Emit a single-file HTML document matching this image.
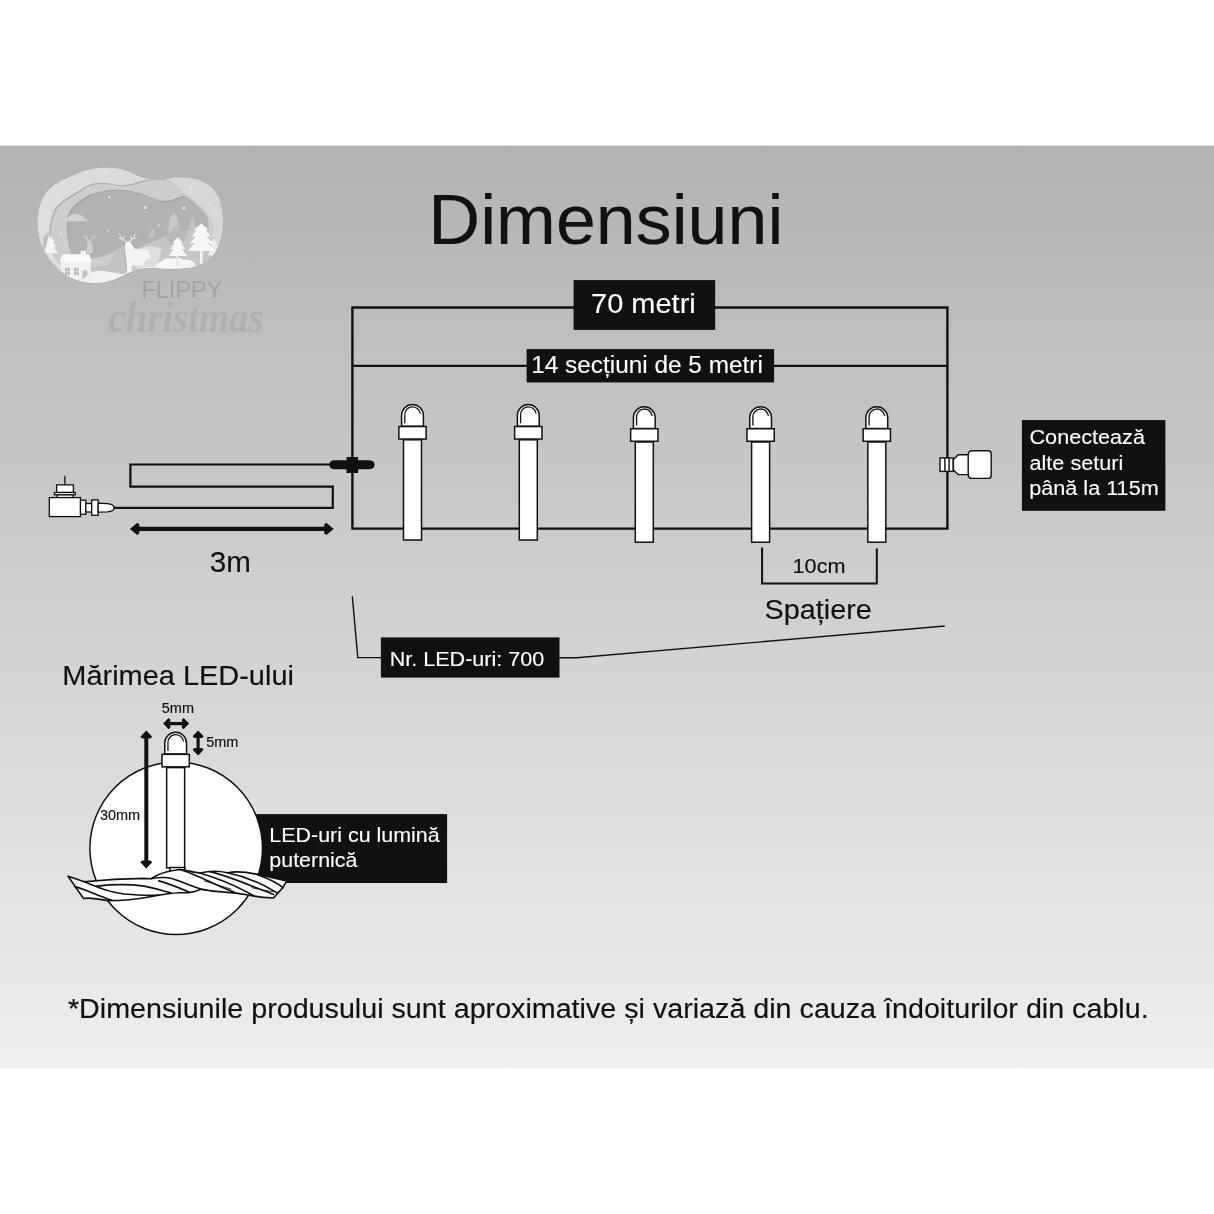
<!DOCTYPE html>
<html lang="ro">
<head>
<meta charset="utf-8">
<title>Dimensiuni</title>
<style>
html,body{margin:0;padding:0;background:#fff;}
body{width:1214px;height:1214px;overflow:hidden;position:relative;font-family:"Liberation Sans",sans-serif;}
svg{position:absolute;left:0;top:0;display:block;will-change:transform;}
text{font-family:"Liberation Sans",sans-serif;}
.w{fill:#fff;}
text.w{stroke:#fff;stroke-width:0.12px;}
text.k{stroke:#111;stroke-width:0.15px;}
.k{fill:#111;}
.ln{stroke:#111;fill:none;}
.p{fill:#fff;stroke:#111;stroke-width:1.5;}
</style>
</head>
<body>
<svg width="1214" height="1214" viewBox="0 0 1214 1214">
<defs>
<linearGradient id="bg" x1="0" y1="0" x2="0" y2="1">
<stop offset="0" stop-color="#b2b2b2"/>
<stop offset="1" stop-color="#eeeeee"/>
</linearGradient>
</defs>
<rect x="0" y="145.5" width="1214" height="922.8" fill="url(#bg)"/>

<!-- LOGO -->
<g id="logo" transform="translate(30 160) scale(0.16474)">
<defs><clipPath id="lc"><path d="M47 380C47 353 50 325 55 300C60 275 68 252 80 230C92 208 101 190 125 170C149 150 188 128 225 110C262 92 312 70 350 60C388 50 417 48 450 47C483 46 524 50 550 55C576 60 585 66 607 75C629 84 653 100 682 107C711 114 744 117 782 117C820 117 870 106 907 106C944 106 978 110 1007 117C1036 124 1060 134 1082 150C1104 166 1124 188 1137 210C1150 232 1156 257 1162 280C1168 303 1171 324 1172 350C1173 376 1171 412 1167 439C1163 466 1157 490 1147 514C1137 538 1122 566 1107 584C1092 602 1078 613 1057 624C1036 635 1015 645 982 651C949 657 894 658 857 659C820 660 786 656 757 656C728 656 707 655 682 659C657 663 629 674 607 682C585 690 572 700 550 709C528 718 500 730 475 736C450 742 425 746 400 746C375 746 350 744 325 739C300 734 275 726 250 714C225 702 197 682 175 664C153 646 136 626 120 604C104 582 91 557 80 534C69 511 60 490 55 464C50 438 47 407 47 380Z"/></clipPath>
<linearGradient id="l1g" x1="0" y1="0" x2="1" y2="0"><stop offset="0" stop-color="#dedede"/><stop offset="1" stop-color="#d6d6d6"/></linearGradient></defs>
<path d="M47 380C47 353 50 325 55 300C60 275 68 252 80 230C92 208 101 190 125 170C149 150 188 128 225 110C262 92 312 70 350 60C388 50 417 48 450 47C483 46 524 50 550 55C576 60 585 66 607 75C629 84 653 100 682 107C711 114 744 117 782 117C820 117 870 106 907 106C944 106 978 110 1007 117C1036 124 1060 134 1082 150C1104 166 1124 188 1137 210C1150 232 1156 257 1162 280C1168 303 1171 324 1172 350C1173 376 1171 412 1167 439C1163 466 1157 490 1147 514C1137 538 1122 566 1107 584C1092 602 1078 613 1057 624C1036 635 1015 645 982 651C949 657 894 658 857 659C820 660 786 656 757 656C728 656 707 655 682 659C657 663 629 674 607 682C585 690 572 700 550 709C528 718 500 730 475 736C450 742 425 746 400 746C375 746 350 744 325 739C300 734 275 726 250 714C225 702 197 682 175 664C153 646 136 626 120 604C104 582 91 557 80 534C69 511 60 490 55 464C50 438 47 407 47 380Z" fill="#a9a9a9" opacity="0.5" transform="translate(5 6)"/>
<path d="M47 380C47 353 50 325 55 300C60 275 68 252 80 230C92 208 101 190 125 170C149 150 188 128 225 110C262 92 312 70 350 60C388 50 417 48 450 47C483 46 524 50 550 55C576 60 585 66 607 75C629 84 653 100 682 107C711 114 744 117 782 117C820 117 870 106 907 106C944 106 978 110 1007 117C1036 124 1060 134 1082 150C1104 166 1124 188 1137 210C1150 232 1156 257 1162 280C1168 303 1171 324 1172 350C1173 376 1171 412 1167 439C1163 466 1157 490 1147 514C1137 538 1122 566 1107 584C1092 602 1078 613 1057 624C1036 635 1015 645 982 651C949 657 894 658 857 659C820 660 786 656 757 656C728 656 707 655 682 659C657 663 629 674 607 682C585 690 572 700 550 709C528 718 500 730 475 736C450 742 425 746 400 746C375 746 350 744 325 739C300 734 275 726 250 714C225 702 197 682 175 664C153 646 136 626 120 604C104 582 91 557 80 534C69 511 60 490 55 464C50 438 47 407 47 380Z" fill="url(#l1g)"/>
<g clip-path="url(#lc)">
<path d="M125 425C128 392 138 348 150 320C162 292 179 278 200 260C221 242 250 226 275 210C300 194 329 176 350 165C371 154 383 150 400 147C417 144 433 144 450 145C467 146 483 148 500 150C517 152 532 159 550 160C568 161 585 159 607 155C629 151 657 141 682 135C707 129 736 122 757 120C778 118 790 118 807 120C824 122 842 128 857 135C872 142 885 154 897 165C909 176 917 190 927 200C937 210 944 215 957 225C970 235 990 248 1007 260C1024 272 1044 287 1057 300C1070 313 1079 327 1087 340C1095 353 1103 366 1107 380C1111 394 1113 405 1112 425C1111 445 1109 474 1100 500C1091 526 1077 560 1060 580C1043 600 1027 610 1000 620C973 630 940 635 900 640C860 645 797 648 760 650C723 652 707 650 680 655C653 660 630 672 600 680C570 688 533 694 500 700C467 706 433 714 400 715C367 716 330 712 300 705C270 698 243 688 220 670C197 652 175 625 160 600C145 575 136 549 130 520C124 491 122 458 125 425Z" fill="#a8a8a8" transform="translate(-6 -6)"/>
<path d="M125 425C128 392 138 348 150 320C162 292 179 278 200 260C221 242 250 226 275 210C300 194 329 176 350 165C371 154 383 150 400 147C417 144 433 144 450 145C467 146 483 148 500 150C517 152 532 159 550 160C568 161 585 159 607 155C629 151 657 141 682 135C707 129 736 122 757 120C778 118 790 118 807 120C824 122 842 128 857 135C872 142 885 154 897 165C909 176 917 190 927 200C937 210 944 215 957 225C970 235 990 248 1007 260C1024 272 1044 287 1057 300C1070 313 1079 327 1087 340C1095 353 1103 366 1107 380C1111 394 1113 405 1112 425C1111 445 1109 474 1100 500C1091 526 1077 560 1060 580C1043 600 1027 610 1000 620C973 630 940 635 900 640C860 645 797 648 760 650C723 652 707 650 680 655C653 660 630 672 600 680C570 688 533 694 500 700C467 706 433 714 400 715C367 716 330 712 300 705C270 698 243 688 220 670C197 652 175 625 160 600C145 575 136 549 130 520C124 491 122 458 125 425Z" fill="#cdcdcd"/>
<path d="M230 380C232 352 238 335 250 315C262 295 279 277 300 260C321 243 350 226 375 215C400 204 425 200 450 195C475 190 499 188 525 187C551 186 581 188 607 192C633 196 657 202 682 210C707 218 736 232 757 240C778 248 790 253 807 255C824 257 840 253 857 250C874 247 892 239 907 235C922 231 930 221 947 227C964 233 989 254 1007 270C1025 286 1045 307 1057 320C1069 333 1072 333 1077 350C1082 367 1086 395 1085 420C1084 445 1079 477 1070 500C1061 523 1050 543 1030 560C1010 577 988 590 950 600C912 610 842 613 800 620C758 627 733 633 700 640C667 647 633 653 600 660C567 667 533 675 500 680C467 685 430 693 400 690C370 687 343 678 320 660C297 642 274 610 260 580C246 550 240 513 235 480C230 447 228 408 230 380Z" fill="#9f9f9f" transform="translate(-6 -6)"/>
<path d="M230 380C232 352 238 335 250 315C262 295 279 277 300 260C321 243 350 226 375 215C400 204 425 200 450 195C475 190 499 188 525 187C551 186 581 188 607 192C633 196 657 202 682 210C707 218 736 232 757 240C778 248 790 253 807 255C824 257 840 253 857 250C874 247 892 239 907 235C922 231 930 221 947 227C964 233 989 254 1007 270C1025 286 1045 307 1057 320C1069 333 1072 333 1077 350C1082 367 1086 395 1085 420C1084 445 1079 477 1070 500C1061 523 1050 543 1030 560C1010 577 988 590 950 600C912 610 842 613 800 620C758 627 733 633 700 640C667 647 633 653 600 660C567 667 533 675 500 680C467 685 430 693 400 690C370 687 343 678 320 660C297 642 274 610 260 580C246 550 240 513 235 480C230 447 228 408 230 380Z" fill="#b2b2b2"/>
<path d="M195 372 Q200 350 235 348 Q250 322 290 330 Q320 335 325 352 Q350 355 352 372 Z" fill="#d2d2d2"/>
<path d="M835 218 Q850 200 880 203 Q905 198 915 215 Z" fill="#d0d0d0"/>
<path d="M385 272 A24 24 0 1 0 402 318 A20 20 0 0 1 385 272 Z" fill="#d6d6d6"/>
<path d="M872 318L901 356L888 350L908 394L892 388L915 432L896 426L922 470L822 470L848 426L829 432L852 388L836 394L856 350L843 356Z" fill="#c9c9c9"/>
<path d="M987 345L1006 380L997 376L1012 415L1000 411L1017 450L957 450L974 411L962 415L977 376L968 380Z" fill="#c4c4c4"/>
<path d="M742 419L758 444L751 442L764 468L720 468L733 442L726 444Z" fill="#c3c3c3"/>
<path d="M600 560 C680 520 760 500 860 440 L1000 420 L1100 480 L1100 680 L600 700 Z" fill="#c6c6c6"/>
<path d="M820 470 L880 400 L960 440 L900 560 Z" fill="#b0b0b0" opacity="0.6"/>
<path d="M370 600 C450 590 510 560 568 518 L585 700 L370 700 Z" fill="#c2c2c2"/>
<path d="M370 600 C420 585 470 590 520 560 L470 640 L370 650 Z" fill="#cdcdcd"/>
<path d="M640 545 C700 520 760 520 800 540 L770 650 L640 660 Z" fill="#dedede"/>
<path d="M345 490 L370 490 L378 520 L380 565 L340 565 L348 520 Z" fill="#cfcfcf"/>
<path d="M330 452 Q336 478 358 488 M338 470 L326 470 M345 480 L350 462 M396 452 Q390 478 366 488 M388 470 L400 470 M380 480 L375 462" fill="none" stroke="#d4d4d4" stroke-width="5" stroke-linecap="round"/>
<path d="M150 700 C250 690 330 680 400 676 C470 665 520 690 570 692 L700 650 L1100 640 L1100 800 L100 800 Z" fill="#f1f1f1"/>
<path d="M762 662 Q760 625 800 615 Q820 590 860 600 Q900 585 930 605 Q980 600 1000 630 L1010 662 Z" fill="#f6f6f6"/>
<path d="M1115 478L1139 511L1128 507L1146 545L1132 541L1152 578L1078 578L1098 541L1084 545L1102 507L1091 511Z" fill="#ededed"/>
<rect x="1032" y="545" width="16" height="95" fill="#f2f2f2"/>
<path d="M1040 385L1088 427L1067 420L1100 468L1073 462L1111 510L1079 504L1122 552L958 552L1001 504L969 510L1007 462L980 468L1013 420L992 427Z" fill="#f6f6f6"/>
<rect x="887" y="575" width="13" height="70" fill="#e6e6e6"/>
<path d="M897 467L932 505L917 501L943 544L922 539L953 582L841 582L872 539L851 544L877 501L862 505Z" fill="#f6f6f6"/>
<path d="M580 500 L610 495 L622 520 L640 540 L720 545 L730 600 L700 605 L690 640 L620 640 L612 690 L592 690 L585 600 L575 540 Z" fill="#f4f4f4"/>
<path d="M545 452 Q550 482 588 496 M556 476 L540 474 M566 486 L572 462 M638 452 Q632 482 600 496 M628 476 L644 474 M618 486 L612 462" fill="none" stroke="#efefef" stroke-width="6" stroke-linecap="round"/>
<rect x="118" y="560" width="14" height="48" fill="#ececec"/>
<path d="M124 462L152 497L140 493L161 531L144 527L169 566L79 566L104 527L87 531L108 493L96 497Z" fill="#f4f4f4"/>
<rect x="307" y="551" width="33" height="30" fill="#f4f4f4"/>
<path d="M187 612 H370 V730 H187 Z" fill="#f0f0f0"/>
<path d="M196 572 H360 L376 618 H180 Z" fill="#f8f8f8"/>
<path d="M212 654 H242 V698 H212 Z M267 654 H295 V698 H267 Z" fill="#b4b4b4"/>
<path d="M227 654 V698 M212 676 H242 M281 654 V698 M267 676 H295" stroke="#ededed" stroke-width="4" fill="none"/>
<path d="M82 470 L112 440 L100 520 L78 560 Z" fill="#a6a6a6" opacity="0.55"/>
<path d="M318 722 V690 Q318 668 334 668 Q350 668 350 690 Q350 705 318 722 Z" fill="#c0c0c0"/>
<circle cx="462" cy="75" r="7" fill="#efefef"/>
<circle cx="352" cy="172" r="7" fill="#efefef"/>
<circle cx="172" cy="222" r="7" fill="#efefef"/>
<circle cx="115" cy="320" r="6" fill="#efefef"/>
<circle cx="482" cy="225" r="7" fill="#efefef"/>
<circle cx="699" cy="290" r="8" fill="#efefef"/>
<circle cx="934" cy="292" r="8" fill="#efefef"/>
<circle cx="977" cy="165" r="6" fill="#efefef"/>
<circle cx="782" cy="397" r="5" fill="#efefef"/>
<circle cx="187" cy="446" r="6" fill="#efefef"/>
<circle cx="475" cy="429" r="5" fill="#efefef"/>
<circle cx="1085" cy="272" r="5" fill="#efefef"/>
<circle cx="1130" cy="335" r="5" fill="#efefef"/>
</g>
</g>
<text x="141.5" y="297.9" font-size="24" fill="#a3a3a3" textLength="81" lengthAdjust="spacing">FLIPPY</text>
<text x="108.5" y="332" font-style="italic" font-weight="bold" font-size="44" fill="#b0b0b0" textLength="155" lengthAdjust="spacingAndGlyphs" style="font-family:'Liberation Serif',serif">christmas</text>

<!-- title -->
<text transform="translate(428.3 244.1) scale(1 0.97)" font-size="71.8" class="k">Dimensiuni</text>

<!-- frame lines -->
<path class="ln" stroke-width="2.4" d="M574 307.5 H352.4 V528.6 H947.4 V307.5 H715"/>
<path class="ln" stroke-width="2.4" d="M352.4 365.9 H527 M774 365.9 H947.4"/>

<!-- label boxes -->
<rect class="k" x="573.6" y="280.1" width="141.6" height="49.8"/>
<text transform="translate(591.05 313.4) scale(1 0.97)" font-size="29" class="w">70 metri</text>
<rect class="k" x="526.6" y="349.1" width="247.5" height="33.3"/>
<text transform="translate(531.15 373.1) scale(1 0.97)" font-size="24.39" class="w">14 secțiuni de 5 metri</text>

<!-- LEDs -->
<g transform="translate(412.5 403.8)">
<path class="p" d="M-10.9 22.5 V11.65 A10.9 10.9 0 0 1 10.9 11.65 V22.5 Z"/>
<path class="ln" stroke-width="1.3" d="M-7.7 19.5 V12 A7.7 7.7 0 0 1 7.9 9.8"/>
<rect class="p" x="-9" y="36" width="18" height="100.2"/>
<rect class="p" x="-13.65" y="22.75" width="27.3" height="12.5"/>
</g>
<g transform="translate(528.3 403.8)">
<path class="p" d="M-10.9 22.5 V11.65 A10.9 10.9 0 0 1 10.9 11.65 V22.5 Z"/>
<path class="ln" stroke-width="1.3" d="M-7.7 19.5 V12 A7.7 7.7 0 0 1 7.9 9.8"/>
<rect class="p" x="-9" y="36" width="18" height="100.2"/>
<rect class="p" x="-13.65" y="22.75" width="27.3" height="12.5"/>
</g>
<g transform="translate(644.3 406)">
<path class="p" d="M-10.9 22.5 V11.65 A10.9 10.9 0 0 1 10.9 11.65 V22.5 Z"/>
<path class="ln" stroke-width="1.3" d="M-7.7 19.5 V12 A7.7 7.7 0 0 1 7.9 9.8"/>
<rect class="p" x="-9" y="36" width="18" height="100.2"/>
<rect class="p" x="-13.65" y="22.75" width="27.3" height="12.5"/>
</g>
<g transform="translate(760.6 406)">
<path class="p" d="M-10.9 22.5 V11.65 A10.9 10.9 0 0 1 10.9 11.65 V22.5 Z"/>
<path class="ln" stroke-width="1.3" d="M-7.7 19.5 V12 A7.7 7.7 0 0 1 7.9 9.8"/>
<rect class="p" x="-9" y="36" width="18" height="100.2"/>
<rect class="p" x="-13.65" y="22.75" width="27.3" height="12.5"/>
</g>
<g transform="translate(876.8 406)">
<path class="p" d="M-10.9 22.5 V11.65 A10.9 10.9 0 0 1 10.9 11.65 V22.5 Z"/>
<path class="ln" stroke-width="1.3" d="M-7.7 19.5 V12 A7.7 7.7 0 0 1 7.9 9.8"/>
<rect class="p" x="-9" y="36" width="18" height="100.2"/>
<rect class="p" x="-13.65" y="22.75" width="27.3" height="12.5"/>
</g>

<!-- lead cable -->
<path class="ln" stroke-width="2.2" d="M114 507.9 H332.8 V486.6 H130.4 V464.5 H332"/>
<!-- connector -->
<path class="k" d="M329.3 464.7 Q329.3 460.4 334.5 460.3 H369.5 Q374.6 460.6 374.6 464.7 Q374.6 468.8 369.5 469.2 H334.5 Q329.3 469 329.3 464.7 Z"/>
<rect class="k" x="346.5" y="457" width="11.6" height="16"/>
<!-- adapter -->
<g class="p" stroke-width="1.3" style="stroke-width:1.3">
<path d="M64.9 475.8 V484.8" fill="none"/>
<rect x="56.6" y="484.9" width="16.8" height="7.6"/>
<rect x="57" y="494.6" width="16" height="3"/>
<rect x="54.4" y="492.5" width="20.8" height="2.3"/>
<rect x="49.3" y="497.6" width="31.2" height="19"/>
<rect x="80.5" y="500.2" width="5.4" height="14.1"/>
<rect x="85.9" y="503.5" width="5.8" height="8.5"/>
<rect x="91.7" y="499.9" width="6.5" height="15.4"/>
<path d="M98.2 503.2 L107.5 503.6 Q113.6 504.4 114 507 V508.6 Q113.6 511.2 107.5 511.8 L98.2 512.1 Z"/>
</g>
<!-- 3m arrow -->
<path class="ln" stroke-width="4.4" d="M136 528.9 H328"/>
<path class="k" d="M129.9 528.9 L137.3 522.8 L139.4 524.6 V533.2 L137.3 535 Z"/>
<path class="k" d="M333.7 528.9 L326.3 522.8 L324.2 524.6 V533.2 L326.3 535 Z"/>
<text transform="translate(209.7 572.1) scale(1 0.97)" font-size="29.6" class="k">3m</text>

<!-- end connector -->
<g class="p" style="stroke-width:1.4">
<rect x="940" y="457.9" width="13.2" height="13.5"/>
<path d="M944.9 457.9 V471.4 M949.1 457.9 V471.4" fill="none"/>
<path d="M953.4 459.5 L958.3 454.8 H969 V474.6 H958.3 L953.4 470 Z"/>
<path d="M972.2 450.7 H988.4 Q991.2 450.7 991.2 453.5 V475.6 Q991.2 478.4 988.4 478.4 H972.2 Q968.2 478.4 968.2 474.4 V454.7 Q968.2 450.7 972.2 450.7 Z"/>
</g>
<rect class="k" x="1021.9" y="420.1" width="143.5" height="90.7"/>
<text transform="translate(1029.5 444.3) scale(1 0.97)" font-size="21.65" class="w">Conectează</text>
<text transform="translate(1029.5 470.2) scale(1 0.97)" font-size="21.65" class="w">alte seturi</text>
<text transform="translate(1029.2 495.4) scale(1 0.97)" font-size="21.65" class="w">până la 115m</text>

<!-- spacing bracket -->
<path class="ln" stroke-width="2" d="M762.1 547.5 V583.5 H876.8 V548.5"/>
<text transform="translate(792.57 573.2) scale(1 0.97)" font-size="21.65" class="k">10cm</text>
<text transform="translate(764.56 618.7) scale(1 0.97)" font-size="28.79" class="k">Spațiere</text>

<!-- Nr LED callout -->
<path class="ln" stroke-width="1.4" d="M352.3 596.3 L357.8 657.6 H381 M559 657.8 H576.5 L944.8 626"/>
<rect class="k" x="380.9" y="637.4" width="178.6" height="40.2"/>
<text transform="translate(389.67 665.7) scale(1 0.97)" font-size="21.59" class="w">Nr. LED-uri: 700</text>

<!-- LED size -->
<text transform="translate(62.28 685.4) scale(1 0.97)" font-size="28.97" class="k">Mărimea LED-ului</text>
<rect class="k" x="240" y="814.1" width="207.1" height="68.9"/>
<text transform="translate(269.3 842) scale(1 0.97)" font-size="21.45" class="w">LED-uri cu lumină</text>
<text transform="translate(269.3 867.4) scale(1 0.97)" font-size="21.45" class="w">puternică</text>
<circle cx="176.2" cy="848.3" r="86.3" fill="#fff" stroke="#111" stroke-width="1.5"/>
<g transform="translate(175.65 731.6)">
<path class="p" d="M-10.9 22.5 V11.65 A10.9 10.9 0 0 1 10.9 11.65 V22.5 Z"/>
<path class="ln" stroke-width="1.3" d="M-7.7 19.5 V12 A7.7 7.7 0 0 1 7.9 9.8"/>
<rect class="p" x="-9" y="36" width="18" height="100.2"/>
<rect class="p" x="-13.65" y="22.75" width="27.3" height="12.5"/>
</g>
<!-- arrows -->
<path class="ln" stroke-width="4" d="M146.3 736 V863"/>
<path class="k" d="M146.3 730.4 L152.2 736.8 L150.5 738.5 H142.1 L140.4 736.8 Z"/>
<path class="k" d="M146.3 868.6 L152.2 862.2 L150.5 860.5 H142.1 L140.4 862.2 Z"/>
<path class="ln" stroke-width="3.2" d="M168 723.6 H184"/>
<path class="k" d="M163.1 723.6 L168.6 717.9 L170.3 719.5 V727.7 L168.6 729.3 Z"/>
<path class="k" d="M189.1 723.6 L183.6 717.9 L181.9 719.5 V727.7 L183.6 729.3 Z"/>
<path class="ln" stroke-width="3.2" d="M198.1 735 V751"/>
<path class="k" d="M198.1 730.6 L203.6 736.3 L202 738 H194.2 L192.6 736.3 Z"/>
<path class="k" d="M198.1 755.5 L203.6 749.8 L202 748.1 H194.2 L192.6 749.8 Z"/>
<text transform="translate(161.82 712.9) scale(1 0.97)" font-size="14.5" class="k">5mm</text>
<text transform="translate(206.2 746.8) scale(1 0.97)" font-size="14.5" class="k">5mm</text>
<text transform="translate(99.91 819.6) scale(1 0.97)" font-size="14.5" class="k">30mm</text>
<g id="cable" transform="translate(60 855) scale(0.098847)" stroke="#111" stroke-width="16.5" stroke-linejoin="round" stroke-linecap="round">
<path fill="#fff" d="M1112 127 H1262 V170 H1112 Z"/>
<path fill="#fff" d="M82 215 L245 270 C400 255 600 240 850 237 L920 240 C960 215 1040 175 1130 160 L1214 147 C1260 150 1340 172 1414 182 C1514 160 1614 160 1694 180 C1800 160 1950 185 2014 200 L2294 262 L2254 330 L2160 435 C2050 432 1950 415 1904 405 C1830 390 1760 378 1664 375 C1560 372 1490 360 1424 345 C1380 370 1300 385 1214 382 C1100 385 1000 405 900 425 C800 445 650 462 480 462 C400 450 320 425 238 440 Z"/>
<g fill="none">
<path d="M150 320 C250 345 380 410 520 455"/>
<path d="M245 270 C330 300 450 370 650 395 C800 408 900 412 1000 405"/>
<path d="M370 315 C500 300 700 295 850 315 C950 335 1050 365 1120 382"/>
<path d="M920 240 C1000 225 1080 222 1140 240 C1200 260 1300 300 1424 345"/>
<path d="M1214 147 C1364 190 1564 300 1764 378"/>
<path d="M1000 262 C1100 290 1200 330 1300 372"/>
<path d="M1414 182 C1564 225 1764 300 1964 415"/>
<path d="M1514 168 C1664 200 1914 300 2160 400"/>
<path d="M1694 180 C1864 215 2064 300 2199 385"/>
<path d="M1994 198 C2094 235 2194 275 2254 330"/>
<path d="M1460 262 C1560 290 1660 325 1730 345 M1940 330 C2020 350 2100 365 2170 372" stroke-width="9"/>
</g>
</g>

<!-- footer -->
<text transform="translate(67.93 1018.3) scale(1 0.97)" font-size="28.69" class="k">*Dimensiunile produsului sunt aproximative și variază din cauza îndoiturilor din cablu.</text>
</svg>
</body>
</html>
